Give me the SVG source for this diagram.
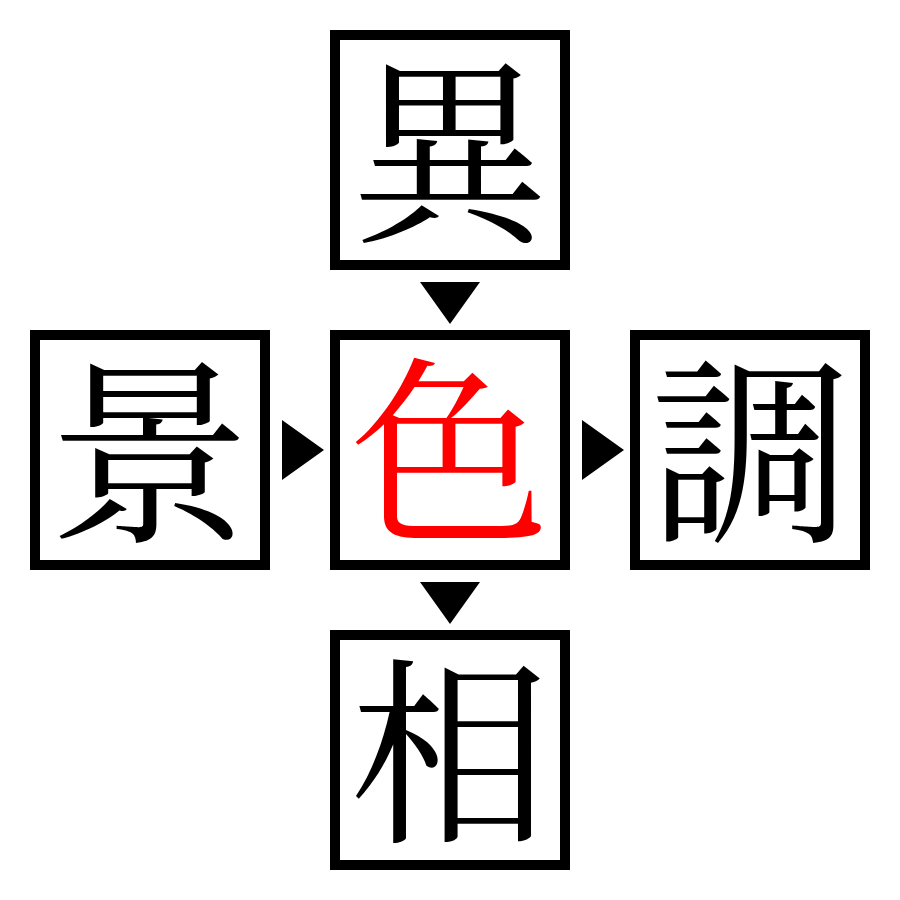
<svg xmlns="http://www.w3.org/2000/svg" width="900" height="900" viewBox="0 0 900 900">
<style>
.box{fill:#fff;stroke:#000;stroke-width:10}
.ch{font-family:"Noto Serif CJK JP","Noto Sans CJK JP","Liberation Serif",serif;font-size:200px;text-anchor:middle;dominant-baseline:central;fill:#000}
.red{fill:#ff0000}
.arr{fill:#000}
</style>
<rect width="900" height="900" fill="#fff"/>
<g id="n-top"><rect class="box" x="335" y="35" width="230" height="230"/><text class="ch" x="450" y="140">異</text></g>
<g id="n-left"><rect class="box" x="35" y="335" width="230" height="230"/><text class="ch" x="150" y="440">景</text></g>
<g id="n-center"><rect class="box" x="335" y="335" width="230" height="230"/><text class="ch red" x="450" y="440">色</text></g>
<g id="n-right"><rect class="box" x="635" y="335" width="230" height="230"/><text class="ch" x="750" y="440">調</text></g>
<g id="n-bottom"><rect class="box" x="335" y="635" width="230" height="230"/><text class="ch" x="450" y="740">相</text></g>
<g id="connectors">
<polygon class="arr" points="420,282 480,282 450,324"/>
<polygon class="arr" points="282,420 282,480 324,450"/>
<polygon class="arr" points="582,420 582,480 624,450"/>
<polygon class="arr" points="420,582 480,582 450,624"/>
</g>
</svg>
